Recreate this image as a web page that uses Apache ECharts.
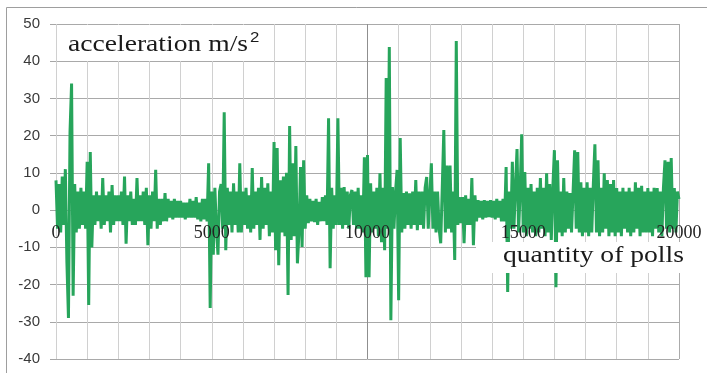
<!DOCTYPE html>
<html>
<head>
<meta charset="utf-8">
<script src="https://cdn.jsdelivr.net/npm/echarts@6/dist/echarts.min.js"></script>
<style>
  html, body { margin: 0; padding: 0; background: #fff; }
  #chart { width: 707px; height: 373px; }
</style>
</head>
<body>
<div id="chart"></div>
<script>
// one reading every 50 polls (upper/lower envelope alternating)
const pollStep = 50
const accel = [
  8, -5, 7, -6, 9, -4, 11, -14, -29, 21, 34, -23, 7, -6, 5, -5, 6, -4, 5, -5,
  13, -25.5, 15.6, -10, 4, -4, 5, -3, 4, -5, 8.6, -4, 4, -3, 5, -6, 6.7, -4, 4, -3,
  4, -3, 5, -4, 9, -9, 4, -3, 5, -4, 3, -4, 8.6, -3, 4, -3, 5, -4, 6, -9.4,
  4, -5, 5, -3, 10.8, -5, 3, -4, 3, -3, 4.6, -3, 3, -2, 2.5, -2.5, 3, -2, 2.5, -2,
  2.5, -2, 2, -2.5, 2, -2, 3, -2, 2.5, -2, 3.5, -2.5, 2, -3, 3, -2.5, 3, -3, 12.6, -26.3,
  5, -12, 6, -5, -12, 5, 7, -5, 26.3, -10.8, 6, -4, 5, -6, 7.2, -4, 5, -6, 12.6, -6,
  5, -4, 6, -5, 4, -6, 11.3, -5, 5, -4, 6, -8, 8.9, -5, 6, -4, 7.2, -7, 5, -6,
  18.3, -10.8, 16.7, -14.8, 8, -6, 9, -7, 10, -22.8, 22.6, -8, 12.6, -7, 17.2, -14.3, -6, 11.6, -9.9, 13.4,
  -5, 4, -3.5, 3, -3, 2.5, -3.2, 3, -4, 2.2, -3, 3.5, -3, 4, -4, 24.7, -15.6, 6, -5, 4,
  -4, 24.7, -4, 6, -5, 6.2, -4, 5, -5, 4, 5.4, -4, 5, -5, 6, -5, 4, -6, 14.2, -18,
  14.8, -18, 7.2, -6, 5, -5, 6, -7, 9.9, -8.6, 6, -10.8, 35.5, -5, 43.8, -29.6, 6.2, -5, 5, 10.8,
  -24.2, 19.4, -6, 4.6, -5, 5, -4, 4.5, -5, 5, -4, 8.1, -5.4, 5, -4, 5, -5, 6, 8.9, -5,
  -5, 12.6, -5, 5, -6, 5, -5, -8.9, 6, 21.5, -6, 12, -5, 12, -6, 5, -13.4, 45.4, -4, 3.5,
  -3.5, 3.5, -8.9, 4, -4, 3, -4, 8.6, -9.4, 4, -3, 2.7, -2, 2.5, -2.5, 2.7, -2, 2.5, -1.9, 2.7,
  -2, 2.5, -2.5, 3, -2, 2.5, -3, 3, -3, 11.6, -22, 5, -5, 13, -5, 6, 16.4, -6, 5, 20.4,
  -6, 10.2, -7, 6, -5, 7, -6, 5, -7, 6, -6, 8.6, -5, 6, -7, 9.9, -6, 7, -8, 6,
  16.1, -20.7, 13.4, -6, 5, -7, 8.6, -6, 5, -5, 4.6, -6, 5, 16.1, -5, 15.6, -6, 7.5, -7, 6,
  -6, 7.5, -7, 6, -6, 7, 17.7, -6, 13.4, -7, 6, -6, 9.9, -5, 8.1, -7, 7, -6, 8.1, -7,
  5.9, -6, 5, -7, 6, -5, 5, -6, 6, -7, 5, -6, 7.5, -5, 6, -7, 6.5, -6, 5, -6,
  5.9, -6, 5, -7, 6, -5, 5.9, -6, 5, -7, 6, 13.4, -5, 13, -6, 14, -5, 5.9, -6, 5,
  3
]
const xTicks = [0, 5000, 10000, 15000, 20000]
const yTicks = [-40, -30, -20, -10, 0, 10, 20, 30, 40, 50]

const chart = echarts.init(document.getElementById('chart'))

const points = accel.map((v, i) => [i * pollStep, v])

const gridTop = 24
const gridBottom = 14
const gridHeight = 373 - gridTop - gridBottom
const yMin = yTicks[0]
const yMax = yTicks[yTicks.length - 1]
// move the x axis (and its labels) up to the zero line
const zeroOffset = gridHeight * (0 - yMin) / (yMax - yMin)

// vertical grid every 1000 polls, the 10000 one is darker
const xGridColors = []
for (let i = 0; i <= 20; i++) {
  xGridColors.push(i === 10 ? '#8f8f8f' : (i === 20 ? '#ababab' : '#d0d0d0'))
}

const option = {
  animation: false,
  grid: { left: 56, right: 28, top: gridTop, bottom: gridBottom, outerBoundsMode: 'none', containLabel: false },
  xAxis: [
    {
      // grid lines only, stays under the signal
      type: 'value',
      min: 0,
      max: 20000,
      interval: 1000,
      axisLine: { show: false, onZero: false },
      axisTick: { show: false },
      axisLabel: { show: false },
      splitLine: { show: true, lineStyle: { color: xGridColors, width: 1 } }
    },
    {
      // tick labels on the zero line, drawn over the signal
      type: 'value',
      min: 0,
      max: 20000,
      interval: 1000,
      position: 'bottom',
      offset: -zeroOffset,
      z: 10,
      axisLine: { show: false, onZero: false },
      axisTick: { show: false },
      splitLine: { show: false },
      axisLabel: {
        margin: 14,
        fontFamily: 'Liberation Serif',
        fontSize: 18,
        color: '#222',
        showMinLabel: true,
        showMaxLabel: true,
        hideOverlap: false,
        formatter: v => xTicks.includes(v) ? String(v) : ''
      }
    }
  ],
  yAxis: {
    type: 'value',
    min: yMin,
    max: yMax,
    interval: 10,
    axisLine: { show: false, onZero: false },
    axisTick: { show: true, length: 6, lineStyle: { color: '#a6a6a6' } },
    axisLabel: {
      margin: 16,
      fontFamily: 'Liberation Sans',
      fontSize: 15,
      color: '#3a3a3a'
    },
    splitLine: { lineStyle: { color: '#a9a9a9', width: 1 } }
  },
  series: [{
    type: 'line',
    xAxisIndex: 0,
    data: points,
    showSymbol: false,
    symbol: 'none',
    sampling: null,
    lineStyle: { color: '#27a55b', width: 3 },
    z: 3
  }],
  graphic: [
    {
      type: 'polyline', z: 100, silent: true,
      shape: { points: [[6.5, 373], [6.5, 7.5], [707, 7.5]] },
      style: { stroke: '#9e9e9e', fill: null, lineWidth: 1 }
    },
    {
      type: 'rect', z: 100, silent: true,
      shape: { x: 57, y: 25, width: 205, height: 36 },
      style: { fill: '#fff' }
    },
    {
      type: 'text', z: 101, silent: true,
      x: 68, y: 45, scaleX: 1.2,
      style: {
        text: 'acceleration m/s',
        font: '23px "Liberation Serif"',
        fill: '#1a1a1a',
        align: 'left',
        verticalAlign: 'middle'
      }
    },
    {
      type: 'text', z: 101, silent: true,
      x: 250, y: 38, scaleX: 1.2,
      style: {
        text: '2',
        font: '14px "Liberation Sans"',
        fill: '#1a1a1a',
        align: 'left',
        verticalAlign: 'middle'
      }
    },
    {
      type: 'rect', z: 100, silent: true,
      shape: { x: 476, y: 242, width: 214, height: 31 },
      style: { fill: '#fff' }
    },
    {
      type: 'text', z: 101, silent: true,
      x: 503, y: 256, scaleX: 1.2,
      style: {
        text: 'quantity of polls',
        font: '23px "Liberation Serif"',
        fill: '#1a1a1a',
        align: 'left',
        verticalAlign: 'middle'
      }
    }
  ]
}

chart.setOption(option)
</script>
</body>
</html>
